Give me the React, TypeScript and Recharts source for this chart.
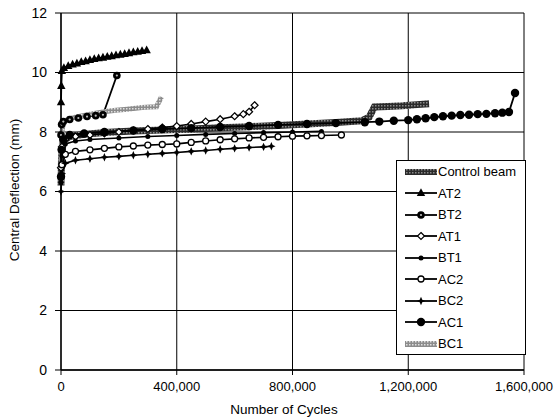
import { LineChart, Line, XAxis, YAxis, CartesianGrid, Legend } from 'recharts'

// [thousand cycles, deflection mm]
const controlBeam: [number, number][] = [
  [0, 6.2], [2, 7.2], [8, 7.7], [30, 7.85], [80, 7.92], [150, 7.98], [250, 8.03], [350, 8.07],
  [450, 8.1], [550, 8.14], [650, 8.18], [750, 8.22], [850, 8.27], [950, 8.32], [1040, 8.38],
  [1065, 8.5], [1083, 8.84], [1130, 8.86], [1180, 8.88], [1230, 8.92], [1272, 8.95],
]
const at2: [number, number][] = [
  [0, 9.0], [1, 9.55], [3, 10.05], [10, 10.15], [25, 10.22], [40, 10.27], [55, 10.3], [70, 10.35],
  [85, 10.38], [100, 10.42], [115, 10.45], [130, 10.48], [145, 10.5], [160, 10.53], [175, 10.55],
  [190, 10.58], [205, 10.6], [220, 10.62], [235, 10.65], [250, 10.68], [265, 10.7], [280, 10.72], [296, 10.75],
]
const bt2: [number, number][] = [
  [0, 7.9], [2, 8.25], [8, 8.35], [30, 8.42], [60, 8.47], [90, 8.52], [120, 8.55], [145, 8.58], [193, 9.9],
]
const at1: [number, number][] = [
  [0, 6.8], [3, 7.5], [15, 7.75], [50, 7.85], [100, 7.9], [150, 7.95], [200, 8.0], [250, 8.05],
  [300, 8.1], [350, 8.15], [400, 8.2], [450, 8.27], [500, 8.35], [550, 8.43], [600, 8.53],
  [630, 8.6], [650, 8.68], [669, 8.9],
]
const bt1: [number, number][] = [
  [0, 6.3], [3, 7.2], [15, 7.6], [50, 7.7], [100, 7.75], [200, 7.8], [300, 7.85], [400, 7.88],
  [500, 7.92], [600, 7.95], [700, 7.98], [800, 8.0], [900, 8.02],
]
const ac2: [number, number][] = [
  [0, 6.5], [3, 6.9], [15, 7.25], [50, 7.35], [100, 7.4], [150, 7.45], [200, 7.5], [250, 7.53],
  [300, 7.56], [350, 7.58], [400, 7.6], [450, 7.65], [500, 7.7], [550, 7.74], [600, 7.77],
  [650, 7.8], [700, 7.82], [750, 7.84], [800, 7.86], [850, 7.87], [900, 7.88], [969, 7.9],
]
const bc2: [number, number][] = [
  [0, 6.0], [3, 6.6], [15, 6.95], [50, 7.05], [100, 7.1], [150, 7.15], [200, 7.18], [250, 7.22],
  [300, 7.25], [350, 7.28], [400, 7.31], [450, 7.35], [500, 7.38], [550, 7.42], [600, 7.45],
  [650, 7.48], [700, 7.5], [727, 7.52],
]
const ac1: [number, number][] = [
  [0, 6.5], [2, 7.4], [8, 7.75], [30, 7.9], [80, 7.95], [150, 8.0], [250, 8.05], [350, 8.1],
  [450, 8.13], [550, 8.17], [650, 8.2], [750, 8.24], [850, 8.27], [950, 8.3], [1050, 8.33],
  [1100, 8.35], [1150, 8.38], [1200, 8.4], [1230, 8.43], [1260, 8.46], [1290, 8.5], [1320, 8.53],
  [1350, 8.55], [1380, 8.57], [1410, 8.58], [1440, 8.6], [1470, 8.61], [1500, 8.63], [1525, 8.65],
  [1548, 8.67], [1569, 9.31],
]
const bc1: [number, number][] = [
  [0, 7.0], [2, 7.8], [6, 8.2], [15, 8.38], [30, 8.45], [50, 8.5], [75, 8.55], [100, 8.6],
  [130, 8.65], [160, 8.7], [190, 8.73], [220, 8.76], [250, 8.79], [280, 8.82], [310, 8.84],
  [330, 8.85], [347, 9.18],
]

const xTicks = [0, 400000, 800000, 1200000, 1600000]
const yTicks = [0, 2, 4, 6, 8, 10, 12]

const toPts = (arr: [number, number][]) => arr.map(([x, y]) => ({ x: x * 1000, y }))

type Marker = 'none' | 'triangle' | 'dotGray' | 'diamond' | 'smallDot' | 'openCircle' | 'star' | 'bigDot'

// drawing order: bottom first
const seriesList: { name: string; data: [number, number][]; stroke: string; width: number; marker: Marker }[] = [
  { name: 'Control beam', data: controlBeam, stroke: 'url(#hatchDark)', width: 7, marker: 'none' },
  { name: 'BT2', data: bt2, stroke: '#000', width: 1.8, marker: 'dotGray' },
  { name: 'BC1', data: bc1, stroke: 'url(#hatchLight)', width: 5, marker: 'none' },
  { name: 'AT2', data: at2, stroke: '#000', width: 1.8, marker: 'triangle' },
  { name: 'AT1', data: at1, stroke: '#000', width: 1.6, marker: 'diamond' },
  { name: 'BT1', data: bt1, stroke: '#000', width: 1.6, marker: 'smallDot' },
  { name: 'AC2', data: ac2, stroke: '#000', width: 1.6, marker: 'openCircle' },
  { name: 'BC2', data: bc2, stroke: '#000', width: 1.6, marker: 'star' },
  { name: 'AC1', data: ac1, stroke: '#000', width: 1.8, marker: 'bigDot' },
]

const legendOrder = ['Control beam', 'AT2', 'BT2', 'AT1', 'BT1', 'AC2', 'BC2', 'AC1', 'BC1']

function drawMarker(m: Marker, cx: number, cy: number, key?: string) {
  switch (m) {
    case 'triangle':
      return <polygon key={key} points={`${cx},${cy - 4.8} ${cx - 4.2},${cy + 3} ${cx + 4.2},${cy + 3}`} fill="#000" />
    case 'dotGray':
      return (
        <g key={key}>
          <circle cx={cx} cy={cy} r={3.8} fill="#000" />
          <circle cx={cx} cy={cy} r={1.1} fill="#bbb" />
        </g>
      )
    case 'diamond':
      return <polygon key={key} points={`${cx},${cy - 3.5} ${cx + 3.5},${cy} ${cx},${cy + 3.5} ${cx - 3.5},${cy}`} fill="#fff" stroke="#000" strokeWidth={1.2} />
    case 'smallDot':
      return <circle key={key} cx={cx} cy={cy} r={2.5} fill="#000" />
    case 'openCircle':
      return <circle key={key} cx={cx} cy={cy} r={3} fill="#fff" stroke="#000" strokeWidth={1.3} />
    case 'star':
      return (
        <polygon
          key={key}
          points={`${cx},${cy - 4.2} ${cx + 1.3},${cy - 1.3} ${cx + 4.2},${cy} ${cx + 1.3},${cy + 1.3} ${cx},${cy + 4.2} ${cx - 1.3},${cy + 1.3} ${cx - 4.2},${cy} ${cx - 1.3},${cy - 1.3}`}
          fill="#000"
        />
      )
    case 'bigDot':
      return <circle key={key} cx={cx} cy={cy} r={4.2} fill="#000" />
    default:
      return <g key={key} />
  }
}

const fmt = (v: number) => (v === 0 ? '0' : v.toLocaleString('en-US'))

function LegendBox() {
  return (
    <div
      style={{
        width: 130,
        height: 195,
        border: '1px solid #000',
        background: '#fff',
        fontFamily: 'Liberation Sans, Arial, sans-serif',
        fontSize: 13,
        lineHeight: '15px',
        boxSizing: 'border-box',
        overflow: 'hidden',
      }}
    >
      {legendOrder.map(name => {
        const s = seriesList.find(d => d.name === name)!
        return (
          <div key={name} style={{ display: 'flex', alignItems: 'center', height: 21.5 }}>
            <svg width={41} height={12} style={{ flex: 'none' }}>
              <line x1={8} y1={6} x2={40} y2={6} stroke={s.stroke} strokeWidth={s.marker === 'none' ? 6 : 1.8} />
              {drawMarker(s.marker, 24, 6)}
            </svg>
            <span style={{ color: '#000' }}>{name}</span>
          </div>
        )
      })}
    </div>
  )
}

export default function App() {
  return (
    <div style={{ position: 'absolute', left: 0, top: 0, width: 555, height: 419, background: '#fff' }}>
      <LineChart width={555} height={419} margin={{ top: 13, right: 31, bottom: 0, left: 0 }}>
        <defs>
          <pattern id="hatchDark" width="3" height="3" patternUnits="userSpaceOnUse">
            <rect width="3" height="3" fill="#2a2a2a" />
            <rect width="1.5" height="1.5" fill="#8a8a8a" />
          </pattern>
          <pattern id="hatchLight" width="3" height="3" patternUnits="userSpaceOnUse">
            <rect width="3" height="3" fill="#8c8c8c" />
            <rect width="1.5" height="1.5" fill="#e0e0e0" />
          </pattern>
        </defs>
        <CartesianGrid stroke="#000" strokeWidth={1} horizontalValues={yTicks} verticalValues={xTicks} />
        <XAxis
          dataKey="x"
          type="number"
          domain={[0, 1600000]}
          ticks={xTicks}
          tickFormatter={fmt}
          height={49}
          tickSize={5}
          tickMargin={7}
          axisLine={{ stroke: '#000', strokeWidth: 1.3 }}
          tickLine={{ stroke: '#000' }}
          tick={{ fill: '#000', fontSize: 13, fontFamily: 'Liberation Sans, Arial, sans-serif' }}
          allowDuplicatedCategory={false}
        />
        <YAxis
          dataKey="y"
          type="number"
          domain={[0, 12]}
          ticks={yTicks}
          width={61}
          tickSize={6}
          tickMargin={8}
          axisLine={{ stroke: '#000', strokeWidth: 1.3 }}
          tickLine={{ stroke: '#000' }}
          tick={{ fill: '#000', fontSize: 14, fontFamily: 'Liberation Sans, Arial, sans-serif' }}
        />
        {seriesList.map(s => (
          <Line
            key={s.name}
            name={s.name}
            data={toPts(s.data)}
            dataKey="y"
            type="linear"
            stroke={s.stroke}
            strokeWidth={s.width}
            dot={
              s.marker === 'none'
                ? false
                : (p: any) => drawMarker(s.marker, p.cx, p.cy, `${s.name}-${p.index}`)
            }
            activeDot={false}
            isAnimationActive={false}
          />
        ))}
        <Legend
          layout="vertical"
          align="center"
          verticalAlign="middle"
          wrapperStyle={{ left: 396, top: 160, width: 130, height: 195 }}
          content={() => <LegendBox />}
        />
      </LineChart>
      <div
        style={{
          position: 'absolute',
          left: 0,
          top: 402,
          width: 568,
          textAlign: 'center',
          fontFamily: 'Liberation Sans, Arial, sans-serif',
          fontSize: 13.5,
          color: '#000',
        }}
      >
        Number of Cycles
      </div>
      <div
        style={{
          position: 'absolute',
          left: 14,
          top: 190,
          transform: 'translate(-50%, -50%) rotate(-90deg)',
          whiteSpace: 'nowrap',
          fontFamily: 'Liberation Sans, Arial, sans-serif',
          fontSize: 13.5,
          color: '#000',
        }}
      >
        Central Deflection (mm)
      </div>
    </div>
  )
}
